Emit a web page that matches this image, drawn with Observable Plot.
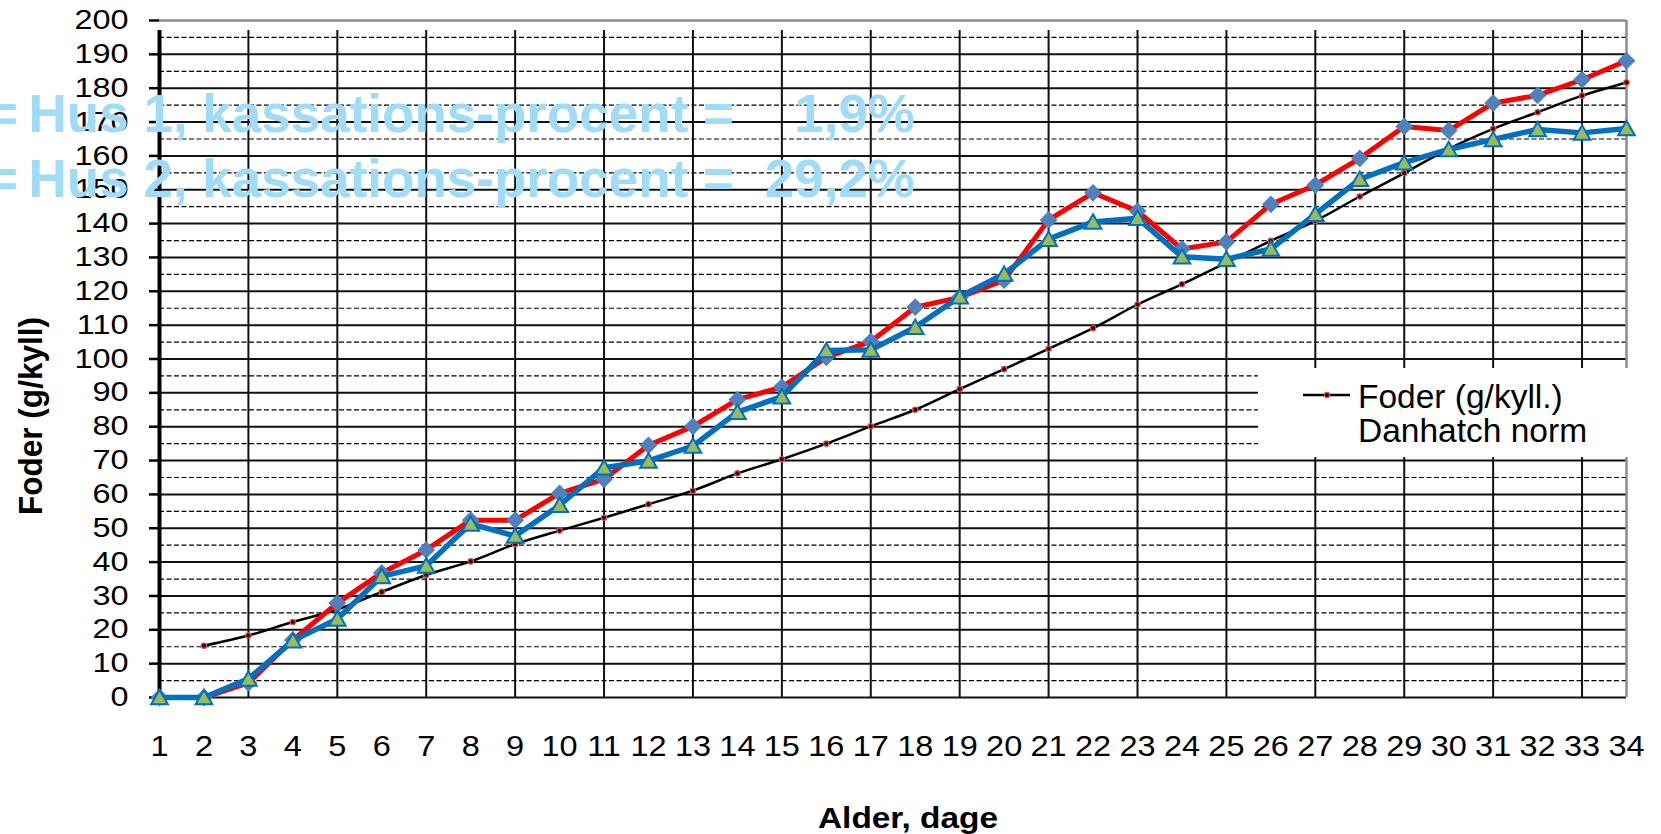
<!DOCTYPE html>
<html><head><meta charset="utf-8">
<script src="https://cdn.jsdelivr.net/npm/d3@7"></script>
<script src="https://cdn.jsdelivr.net/npm/@observablehq/plot@0.6"></script>
<style>
html,body{margin:0;padding:0;background:#fff;overflow:hidden}
#chart svg{display:block}
</style>
</head><body><div id="chart"></div>
<script>
// ---- data ----
const days = [1,2,3,4,5,6,7,8,9,10,11,12,13,14,15,16,17,18,19,20,21,22,23,24,25,26,27,28,29,30,31,32,33,34];
const gridDays = [3,5,7,9,11,13,15,17,19,21,23,25,27,29,31,33];
const yTicks = [0,10,20,30,40,50,60,70,80,90,100,110,120,130,140,150,160,170,180,190,200];
const yHalf = [5,15,25,35,45,55,65,75,85,95,105,115,125,135,145,155,165,175,185,195];
const hus1 = [0,0,4.3,17,27.9,36.8,43.6,52.4,52.4,60.3,64.5,74.5,80.1,88.0,91.7,100.5,105.2,115.3,118.2,123.3,141.1,149.1,143.7,132.5,134.6,145.7,151.4,159.3,168.7,167.5,175.6,177.9,182.5,188.1];
const hus2 = [0,0,5.5,16.8,23.2,35.8,38.9,51.3,47.7,56.8,67.9,69.9,74.3,84.3,88.9,102.5,102.7,109.4,118.4,125.1,135.4,140.5,141.6,130.2,129.5,132.5,142.8,153.1,158.0,161.9,164.9,167.8,166.8,168.1];
const norm = [null,15.3,18.3,22.3,26.0,31.2,36.2,40.2,45.3,49.3,53.1,57.1,61.1,66.2,70.4,75.0,80.1,85.0,91.1,97.0,103.0,109.1,116.1,122.1,128.5,134.9,140.8,148.0,154.9,162.1,168.0,172.9,177.8,181.7];
const kassLabels = ["Hus 1, kassations-procent =", "Hus 2, kassations-procent ="];
const kassValues = ["1,9%", "29,2%"];
const normLegend = ["Foder (g/kyll.)", "Danhatch norm"];
const xTitle = "Alder, dage";
const yTitle = "Foder (g/kyll)";

// ---- tables ----
const s1 = days.map((d, i) => ({day: d, v: hus1[i]}));
const s2 = days.map((d, i) => ({day: d, v: hus2[i]}));
const sN = days.map((d, i) => ({day: d, v: norm[i]})).filter(d => d.v != null);
const vGrid = gridDays.map(d => ({day: d}));

const FONT = "Arial, 'Liberation Sans', Helvetica, sans-serif";
const W = 1661, H = 834;

const plot = Plot.plot({
  width: W, height: H,
  marginLeft: 159, marginRight: 35, marginTop: 20, marginBottom: 137,
  style: {fontFamily: FONT, fontSize: "28px", background: "#fff", color: "#000", overflow: "visible"},
  x: {type: "linear", domain: [1, 34], axis: null},
  y: {type: "linear", domain: [0, 200], axis: null},
  marks: [
    // dashed half gridlines
    Plot.ruleY(yHalf, {stroke: "#000", strokeWidth: 1.2, strokeDasharray: "5,2.5"}),
    // solid gridlines
    Plot.ruleY(yTicks.filter(t => t < 200), {stroke: "#111", strokeWidth: 2}),
    // vertical gridlines (every other day), extending below as tick marks
    Plot.ruleX(vGrid, {x: "day", y1: () => 0, y2: () => 200, insetBottom: -10, stroke: "#111", strokeWidth: 2}),
    // frame top and right (grey)
    Plot.ruleY([200], {stroke: "#8c8c8c", strokeWidth: 2.5}),
    Plot.ruleX([34], {y1: () => 0, y2: () => 200, stroke: "#8c8c8c", strokeWidth: 2.5}),
    // y axis
    Plot.axisY({ticks: yTicks, tickSize: 10, tickPadding: 21, fontSize: 27, strokeWidth: 2.5, label: null}),
    Plot.ruleX([1], {y1: () => 0, y2: () => 200, insetBottom: -10, insetTop: -1, stroke: "#000", strokeWidth: 4}),
    // x axis labels
    Plot.axisX({ticks: days, tickFormat: d => String(d), tickSize: 0, tickPadding: 38, fontSize: 29, label: null}),
    // norm line
    Plot.line(sN, {x: "day", y: "v", curve: "catmull-rom", stroke: "#000", strokeWidth: 2.5}),
    Plot.dot(sN, {x: "day", y: "v", r: 2.7, fill: "#400", stroke: "#d9534f", strokeWidth: 1.2}),
    // Hus 1
    Plot.line(s1, {x: "day", y: "v", stroke: "#ff0000", strokeWidth: 5}),
    Plot.dot(s1, {x: "day", y: "v", symbol: "diamond2", r: 8, fill: "#4f81bd", stroke: "none"}),
    // Hus 2
    Plot.line(s2, {x: "day", y: "v", stroke: "#0070c0", strokeWidth: 5.5}),
    Plot.dot(s2, {x: "day", y: "v", symbol: "triangle", r: 6.2, dy: 2, fill: "#9bbb59", stroke: "#0070c0", strokeWidth: 2})
  ]
});

document.getElementById("chart").append(plot);

// ---- decorations (titles, legends) ----
const svg = d3.select(plot);

// widen tick labels (the original is horizontally stretched)
function stretch(sel, k) {
  sel.each(function() {
    const w = this.getComputedTextLength();
    this.setAttribute("textLength", (w * k).toFixed(1));
    this.setAttribute("lengthAdjust", "spacingAndGlyphs");
  });
}
stretch(svg.selectAll('g[aria-label="y-axis tick label"] text'), 1.2);
stretch(svg.selectAll('g[aria-label="x-axis tick label"] text'), 1.12);

// axis titles
svg.append("text")
  .attr("x", 908).attr("y", 828)
  .attr("text-anchor", "middle")
  .attr("textLength", 180).attr("lengthAdjust", "spacingAndGlyphs")
  .style("font-family", FONT).style("font-size", "30px").style("font-weight", "bold")
  .attr("fill", "#000")
  .text(xTitle);

svg.append("text")
  .attr("transform", "translate(42,416) rotate(-90)")
  .attr("text-anchor", "middle")
  .attr("textLength", 198).attr("lengthAdjust", "spacingAndGlyphs")
  .style("font-family", FONT).style("font-size", "34px").style("font-weight", "bold")
  .attr("fill", "#000")
  .text(yTitle);

// norm legend box
const lg = svg.append("g");
lg.append("rect").attr("x", 1258).attr("y", 368).attr("width", 380).attr("height", 89).attr("fill", "#fff");
lg.append("line").attr("x1", 1303).attr("x2", 1350).attr("y1", 395).attr("y2", 395)
  .attr("stroke", "#000").attr("stroke-width", 2.5);
lg.append("circle").attr("cx", 1327).attr("cy", 395).attr("r", 2.7)
  .attr("fill", "#400").attr("stroke", "#d9534f").attr("stroke-width", 1.2);
normLegend.forEach((t, i) => {
  lg.append("text").attr("x", 1358).attr("y", 408 + i * 34)
    .attr("text-anchor", "start")
    .style("font-family", FONT).style("font-size", "33.5px")
    .attr("fill", "#000").text(t);
});

// light-blue overlay text (clipped legend of Hus 1 / Hus 2)
const ov = svg.append("g").style("font-family", FONT).style("font-size", "53px").style("font-weight", "bold").attr("fill", "#a0dcf8");
kassLabels.forEach((t, i) => {
  const y = 132 + i * 65;
  ov.append("text").attr("x", 18).attr("y", y).attr("text-anchor", "end").text("=");
  ov.append("text").attr("x", 734).attr("y", y).attr("text-anchor", "end").text(t);
  ov.append("text").attr("x", 915).attr("y", y).attr("text-anchor", "end").text(kassValues[i]);
});
</script>
</body></html>
